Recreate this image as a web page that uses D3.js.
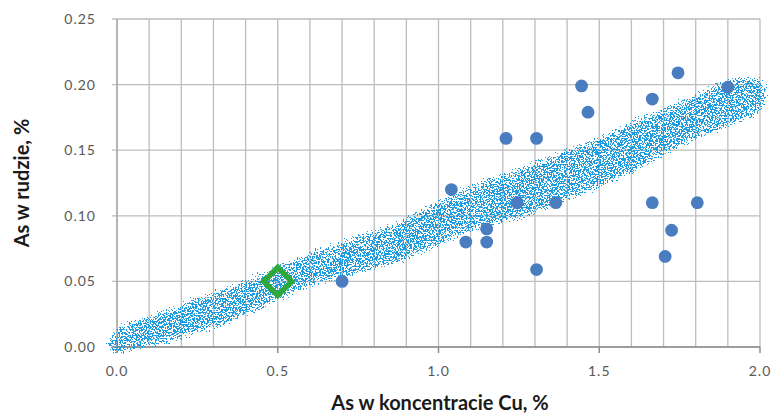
<!DOCTYPE html>
<html><head><meta charset="utf-8">
<script src="https://cdn.jsdelivr.net/npm/d3@7"></script>
<style>html,body{margin:0;padding:0;background:#fff;}svg{display:block;}</style>
</head><body>
<svg id="c" width="773" height="418"></svg>
<script>
// ---- data ----
const xTickValues = [0.0, 0.5, 1.0, 1.5, 2.0];
const xTickLabels = ["0.0", "0.5", "1.0", "1.5", "2.0"];
const yTickValues = [0.00, 0.05, 0.10, 0.15, 0.20, 0.25];
const yTickLabels = ["0.00", "0.05", "0.10", "0.15", "0.20", "0.25"];
const xGridValues = [0,0.1,0.2,0.3,0.4,0.5,0.6,0.7,0.8,0.9,1.0,1.1,1.2,1.3,1.4,1.5,1.6,1.7,1.8,1.9,2.0];

// simulated cloud: band edges (As in concentrate vs As in ore)
const bandX    = [-0.035, 0.0,   0.1,   0.2,   0.3,   0.4,   0.5,   0.6,   0.7,   0.8,   0.9,   1.0,   1.1,   1.2,   1.3,   1.4,   1.5,   1.6,   1.7,   1.8,   1.9,   2.0,   2.03];
const bandHigh = [0.006, 0.017, 0.026, 0.035, 0.044, 0.053, 0.064, 0.074, 0.083, 0.091, 0.101, 0.114, 0.125, 0.134, 0.143, 0.153, 0.162, 0.174, 0.184, 0.195, 0.206, 0.207, 0.197];
const bandLow  = [-0.004,-0.007,-0.002, 0.004, 0.012, 0.021, 0.033, 0.044, 0.051, 0.057, 0.064, 0.075, 0.086, 0.093, 0.099, 0.110, 0.119, 0.130, 0.144, 0.156, 0.166, 0.177, 0.186];

// measured samples
const sampleX = [0.70, 1.04, 1.085, 1.15, 1.15, 1.21, 1.245, 1.305, 1.305, 1.365, 1.445, 1.465, 1.665, 1.665, 1.705, 1.725, 1.745, 1.805, 1.90];
const sampleY = [0.050, 0.120, 0.080, 0.090, 0.080, 0.159, 0.110, 0.159, 0.059, 0.110, 0.199, 0.179, 0.189, 0.110, 0.069, 0.089, 0.209, 0.110, 0.198];

// highlighted point
const markX = [0.5];
const markY = [0.05];

const xTitle = "As w koncentracie Cu, %";
const yTitle = "As w rudzie, %";

// ---- drawing ----
const svg = d3.select("#c");
const x = d3.scaleLinear().domain([0, 2]).range([117, 760]);
const y = d3.scaleLinear().domain([0, 0.25]).range([347, 19]);

const defs = svg.append("defs");
const f = defs.append("filter").attr("id","stipple")
  .attr("filterUnits","userSpaceOnUse").attr("x",0).attr("y",0).attr("width",773).attr("height",418)
  .attr("color-interpolation-filters","sRGB");
f.append("feGaussianBlur").attr("in","SourceAlpha").attr("stdDeviation",4.5).attr("result","soft");
f.append("feTurbulence").attr("type","fractalNoise").attr("baseFrequency",0.65).attr("numOctaves",2).attr("seed",7).attr("result","noise");
f.append("feColorMatrix").attr("in","noise").attr("type","matrix")
  .attr("values","0 0 0 0 0  0 0 0 0 0  0 0 0 0 0  1 0 0 0 0").attr("result","n");
f.append("feComposite").attr("in","soft").attr("in2","n").attr("operator","arithmetic")
  .attr("k1",0).attr("k2",0.56).attr("k3",1).attr("k4",-0.55).attr("result","comb");
const ct = f.append("feComponentTransfer").attr("in","comb").attr("result","mask");
ct.append("feFuncA").attr("type","discrete").attr("tableValues","0 1");
f.append("feFlood").attr("flood-color","#1f9be0").attr("result","col");
f.append("feComposite").attr("in","col").attr("in2","mask").attr("operator","in");

// grid
const grid = svg.append("g");
grid.selectAll("line.v").data(xGridValues).enter().append("line")
  .attr("x1", d => x(d)).attr("x2", d => x(d)).attr("y1", y(0.25)).attr("y2", y(0))
  .attr("stroke", "#bdbdbd").attr("stroke-width", 1.3);
grid.selectAll("line.h").data(yTickValues).enter().append("line")
  .attr("x1", x(0) - 5).attr("x2", x(2)).attr("y1", d => y(d)).attr("y2", d => y(d))
  .attr("stroke", "#bdbdbd").attr("stroke-width", 1.3);

// axes
svg.append("line").attr("x1", x(0)).attr("x2", x(0)).attr("y1", y(0.25)).attr("y2", y(0))
  .attr("stroke", "#a6a6a6").attr("stroke-width", 1.3);
svg.append("line").attr("x1", x(0) - 5).attr("x2", x(2)).attr("y1", y(0)).attr("y2", y(0))
  .attr("stroke", "#8c8c8c").attr("stroke-width", 1.5);
svg.selectAll("line.xt").data(xTickValues).enter().append("line")
  .attr("x1", d => x(d)).attr("x2", d => x(d)).attr("y1", y(0)).attr("y2", y(0) + 6)
  .attr("stroke", "#8c8c8c").attr("stroke-width", 1.5);

// cloud
const area = d3.area().x((d,i) => x(bandX[i])).y0((d,i) => y(bandLow[i])).y1((d,i) => y(bandHigh[i]))
  .curve(d3.curveCatmullRom);
svg.append("path").datum(bandX).attr("d", area).attr("fill", "#1f9be0").attr("filter", "url(#stipple)");

// samples
svg.selectAll("circle.s").data(sampleX).enter().append("circle")
  .attr("cx", d => x(d)).attr("cy", (d,i) => y(sampleY[i])).attr("r", 6.4)
  .attr("fill", "#4a7cc0");

// highlighted diamond
svg.selectAll("path.m").data(markX).enter().append("path")
  .attr("d", d3.symbol().type(d3.symbolSquare).size(390))
  .attr("transform", (d,i) => `translate(${x(d)},${y(markY[i])}) rotate(45)`)
  .attr("fill", "none").attr("stroke", "#2fa83a").attr("stroke-width", 5.5);

// tick labels
svg.selectAll("text.xl").data(xTickValues).enter().append("text")
  .attr("x", d => x(d)).attr("y", 376).attr("text-anchor", "middle")
  .attr("font-family", "Lato, 'Open Sans', sans-serif").attr("font-size", 14).attr("letter-spacing", 1)
  .attr("fill", "#595959").text((d,i) => xTickLabels[i]);
svg.selectAll("text.yl").data(yTickValues).enter().append("text")
  .attr("x", 96).attr("y", d => y(d) + 5).attr("text-anchor", "end")
  .attr("font-family", "Lato, 'Open Sans', sans-serif").attr("font-size", 14).attr("letter-spacing", 1)
  .attr("fill", "#595959").text((d,i) => yTickLabels[i]);

// titles
svg.append("text").attr("x", 440).attr("y", 410).attr("text-anchor", "middle")
  .attr("font-family", "Lato, 'Open Sans', sans-serif").attr("font-size", 20).attr("font-weight", "bold")
  .attr("fill", "#1a1a1a").text(xTitle);
svg.append("text").attr("transform", "translate(29,183) rotate(-90)").attr("text-anchor", "middle")
  .attr("font-family", "Lato, 'Open Sans', sans-serif").attr("font-size", 20).attr("font-weight", "bold")
  .attr("fill", "#1a1a1a").text(yTitle);
</script>
</body></html>
